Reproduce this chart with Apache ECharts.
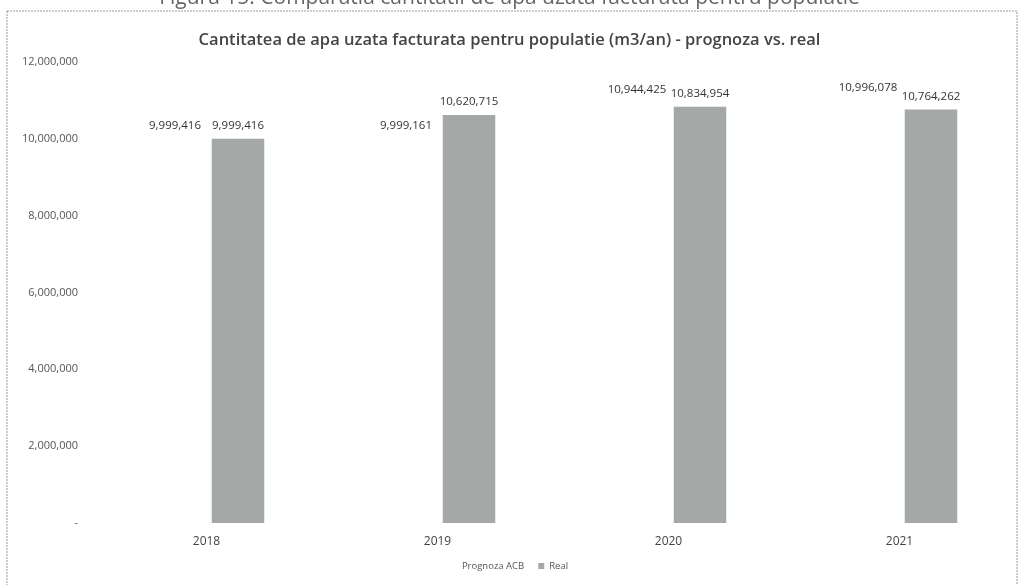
<!DOCTYPE html>
<html><head><meta charset="utf-8">
<script src="https://cdn.jsdelivr.net/npm/echarts@6/dist/echarts.min.js"></script>
<style>html,body{margin:0;padding:0;background:#fff}#c{width:1019px;height:585px}</style>
</head><body><div id="c"></div>
<script>
const categories = ['2018', '2019', '2020', '2021'];
const prognozaACB = [9999416, 9999161, 10944425, 10996078];
const real = [9999416, 10620715, 10834954, 10764262];
const yTicks = [0, 2000000, 4000000, 6000000, 8000000, 10000000, 12000000];

const fmt = v => v === 0 ? '-' : Number(v).toLocaleString('en-US');
const chart = echarts.init(document.getElementById('c'), null, {renderer: 'canvas'});
const font = '"Open Sans", sans-serif';
chart.setOption({
  animation: false,
  textStyle: {fontFamily: font},
  graphic: [
    {type: 'rect', shape: {x: 7, y: 11, width: 1010, height: 590}, style: {fill: 'none', stroke: '#9a9a9a', lineWidth: 1, lineDash: [2, 1]}, z: -1},
    {type: 'text', left: 'center', top: -12, style: {text: 'Figura 15: Comparatia cantitatii de apa uzata facturata pentru populatie', font: '21px "Open Sans", sans-serif', fill: '#666'}}
  ],
  title: {
    text: 'Cantitatea de apa uzata facturata pentru populatie (m3/an) - prognoza vs. real',
    left: 'center', top: 27,
    textStyle: {fontFamily: font, fontSize: 16.5, fontWeight: 600, color: '#444'}
  },
  legend: {
    bottom: 9, left: 'center', itemWidth: 6, itemHeight: 6, itemGap: 14,
    textStyle: {fontFamily: font, fontSize: 9.5, color: '#555'},
    data: [{name: 'Prognoza ACB', icon: 'rect'}, {name: 'Real', icon: 'rect'}]
  },
  grid: {left: 91, right: 4, top: 62, bottom: 62, containLabel: false},
  xAxis: {
    type: 'category', data: categories,
    axisLine: {show: false}, axisTick: {show: false},
    axisLabel: {fontFamily: font, fontSize: 12, color: '#444', margin: 13}
  },
  yAxis: {
    type: 'value', min: yTicks[0], max: yTicks[yTicks.length - 1], interval: yTicks[1] - yTicks[0],
    axisLine: {show: false}, axisTick: {show: false}, splitLine: {show: false},
    axisLabel: {fontFamily: font, fontSize: 11, color: '#555', margin: 13, formatter: fmt}
  },
  series: [
    {
      name: 'Prognoza ACB', type: 'bar', data: prognozaACB, barGap: '20%', barCategoryGap: '50%',
      itemStyle: {color: '#ffffff'},
      label: {show: true, position: 'top', distance: 7, fontFamily: font, fontSize: 11.5, color: '#333', formatter: p => fmt(p.value)}
    },
    {
      name: 'Real', type: 'bar', data: real,
      itemStyle: {color: '#a4a8a7'},
      label: {show: true, position: 'top', distance: 7, fontFamily: font, fontSize: 11.5, color: '#333', formatter: p => fmt(p.value)}
    }
  ]
});
</script></body></html>
